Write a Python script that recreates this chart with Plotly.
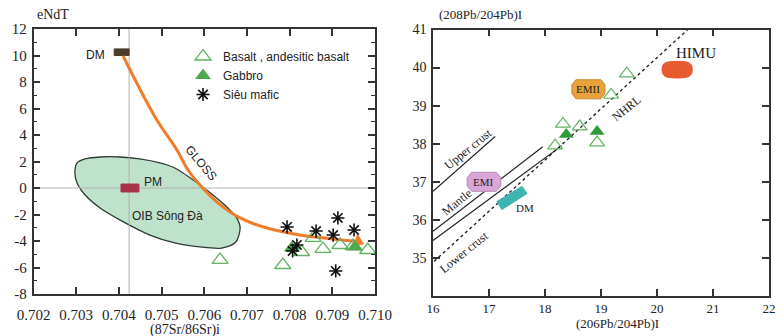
import plotly.graph_objects as go

# ---------------- Left panel data: eNdT vs (87Sr/86Sr)i ----------------
sr_ticks = [0.702, 0.703, 0.704, 0.705, 0.706, 0.707, 0.708, 0.709, 0.710]
nd_ticks = [-8, -6, -4, -2, 0, 2, 4, 6, 8, 10, 12]

basalt_sr = [0.70637, 0.70784, 0.70828, 0.70878, 0.70855, 0.70918, 0.70949, 0.70983]
basalt_nd = [-5.43, -5.81, -4.83, -4.60, -3.77, -4.30, -4.38, -4.68]

gabbro_sr = [0.70805, 0.70953]
gabbro_nd = [-4.53, -4.45]

ultra_sr = [0.70794, 0.70913, 0.70862, 0.70902, 0.70951, 0.70817, 0.70807, 0.70908]
ultra_nd = [-2.94, -2.26, -3.25, -3.55, -3.17, -4.30, -4.75, -6.26]

oib_sr = [0.70302, 0.70321, 0.70356, 0.70403, 0.70449, 0.70496, 0.70531, 0.70590,
          0.70648, 0.70676, 0.70684, 0.70674, 0.70641, 0.70590, 0.70531, 0.70473,
          0.70403, 0.70356, 0.70321, 0.70302, 0.70297, 0.70302]
oib_nd = [1.89, 2.19, 2.34, 2.34, 2.19, 1.89, 1.51, 0.23,
          -1.28, -2.26, -3.02, -4.08, -4.53, -4.45, -4.15, -3.55,
          -2.42, -1.51, -0.53, 0.38, 1.13, 1.89]

gloss_sr = [0.70410, 0.70442, 0.70489, 0.70536, 0.70562, 0.70590, 0.70630,
            0.70684, 0.70747, 0.70824, 0.70901, 0.70960]
gloss_nd = [9.96, 7.92, 5.13, 2.87, 1.36, 0.23, -1.06, -2.26, -3.02, -3.55, -3.85, -4.05]

dm_sr = [0.70389, 0.70424, 0.70424, 0.70389, 0.70389]
dm_nd = [10.0, 10.0, 10.5, 10.5, 10.0]
pm_sr = [0.70405, 0.70447, 0.70447, 0.70405, 0.70405]
pm_nd = [-0.3, -0.3, 0.3, 0.3, -0.3]
bse_sr = 0.70424
bse_nd = 0.0

# ---------------- Right panel data: 208Pb/204Pb vs 206Pb/204Pb ----------------
pb6_ticks = [16, 17, 18, 19, 20, 21, 22]
pb8_ticks = [35, 36, 37, 38, 39, 40, 41]

pb_basalt_6 = [19.46, 19.18, 18.32, 18.62, 18.18, 18.93]
pb_basalt_8 = [39.84, 39.28, 38.52, 38.45, 37.95, 38.03]
pb_gabbro_6 = [18.38, 18.93]
pb_gabbro_8 = [38.24, 38.32]

upper_crust_6 = [16.0, 17.11]
upper_crust_8 = [36.75, 38.19]
mantle_a_6 = [16.0, 17.96]
mantle_a_8 = [35.70, 37.92]
mantle_b_6 = [16.0, 18.30]
mantle_b_8 = [35.46, 37.95]
nhrl_6 = [16.02, 20.55]
nhrl_8 = [34.91, 41.0]

emii_6 = [18.48, 18.48, 18.55, 19.00, 19.07, 19.07, 19.00, 18.55, 18.48]
emii_8 = [39.32, 39.55, 39.68, 39.68, 39.55, 39.32, 39.18, 39.18, 39.32]
emi_6 = [16.61, 16.61, 16.69, 17.13, 17.21, 17.21, 17.13, 16.69, 16.61]
emi_8 = [36.89, 37.11, 37.25, 37.25, 37.11, 36.89, 36.75, 36.75, 36.89]
himu_6 = [20.10, 20.10, 20.16, 20.56, 20.62, 20.62, 20.56, 20.16, 20.10]
himu_8 = [39.85, 40.04, 40.13, 40.13, 40.04, 39.85, 39.76, 39.76, 39.85]
dmpb_6 = [17.14, 17.59, 17.68, 17.23, 17.14]
dmpb_8 = [36.48, 36.88, 36.69, 36.27, 36.48]

# ---------------- styles ----------------
SERIF = "Liberation Serif, Times New Roman, serif"
SANS = "Liberation Sans, Arial, sans-serif"
OPEN_GREEN = "#62b262"
FILL_GREEN = "#4faa4f"
ORANGE = "#f07c2a"
AXIS = "#333333"

fig = go.Figure()

# Left panel
fig.add_trace(go.Scatter(x=oib_sr, y=oib_nd, mode="lines", fill="toself",
                         fillcolor="#bfe2cc", line=dict(color="#2f3a33", width=1.3, shape="spline", smoothing=0.8),
                         showlegend=False, hoverinfo="skip", xaxis="x", yaxis="y"))
fig.add_trace(go.Scatter(x=[bse_sr, bse_sr], y=[nd_ticks[0], nd_ticks[-1]], mode="lines",
                         line=dict(color="#b0b0b0", width=1), showlegend=False, xaxis="x", yaxis="y"))
fig.add_trace(go.Scatter(x=[sr_ticks[0], sr_ticks[-1]], y=[bse_nd, bse_nd], mode="lines",
                         line=dict(color="#b0b0b0", width=1), showlegend=False, xaxis="x", yaxis="y"))
fig.add_trace(go.Scatter(x=dm_sr, y=dm_nd, mode="lines", fill="toself", fillcolor="#4b3b2c",
                         line=dict(color="#4b3b2c", width=1), showlegend=False, xaxis="x", yaxis="y"))
fig.add_trace(go.Scatter(x=pm_sr, y=pm_nd, mode="lines", fill="toself", fillcolor="#a8324a",
                         line=dict(color="#a8324a", width=1), showlegend=False, xaxis="x", yaxis="y"))
fig.add_trace(go.Scatter(x=gloss_sr, y=gloss_nd, mode="lines",
                         line=dict(color=ORANGE, width=3, shape="spline"), showlegend=False, xaxis="x", yaxis="y"))
fig.add_trace(go.Scatter(x=[gloss_sr[-1]], y=[gloss_nd[-1]], mode="markers",
                         marker=dict(symbol="triangle-right", size=13, color=ORANGE, angle=20),
                         showlegend=False, xaxis="x", yaxis="y"))

fig.add_trace(go.Scatter(x=basalt_sr, y=basalt_nd, mode="markers", name="Basalt , andesitic basalt",
                         marker=dict(symbol="triangle-up-open", size=14, color=OPEN_GREEN, line=dict(width=1.3)),
                         xaxis="x", yaxis="y"))
fig.add_trace(go.Scatter(x=gabbro_sr, y=gabbro_nd, mode="markers", name="Gabbro",
                         marker=dict(symbol="triangle-up", size=14, color=FILL_GREEN),
                         xaxis="x", yaxis="y"))
fig.add_trace(go.Scatter(x=ultra_sr, y=ultra_nd, mode="markers", name="Siêu mafic",
                         marker=dict(symbol="asterisk-open", size=11, color="#111111",
                                     line=dict(color="#111111", width=1.6)),
                         xaxis="x", yaxis="y"))

# Right panel
for xs, ys in [(upper_crust_6, upper_crust_8), (mantle_a_6, mantle_a_8), (mantle_b_6, mantle_b_8)]:
    fig.add_trace(go.Scatter(x=xs, y=ys, mode="lines", line=dict(color="#222222", width=1.2),
                             showlegend=False, xaxis="x2", yaxis="y2"))
fig.add_trace(go.Scatter(x=nhrl_6, y=nhrl_8, mode="lines", line=dict(color="#222222", width=1.4, dash="dot"),
                         showlegend=False, xaxis="x2", yaxis="y2"))
fig.add_trace(go.Scatter(x=emii_6, y=emii_8, mode="lines", fill="toself", fillcolor="#e9a23b",
                         line=dict(color="#c98a2a", width=1), showlegend=False, xaxis="x2", yaxis="y2"))
fig.add_trace(go.Scatter(x=emi_6, y=emi_8, mode="lines", fill="toself", fillcolor="#d9a6d8",
                         line=dict(color="#b88ab8", width=1), showlegend=False, xaxis="x2", yaxis="y2"))
fig.add_trace(go.Scatter(x=himu_6, y=himu_8, mode="lines", fill="toself", fillcolor="#e85a30",
                         line=dict(color="#e85a30", width=1, shape="spline"), showlegend=False, xaxis="x2", yaxis="y2"))
fig.add_trace(go.Scatter(x=dmpb_6, y=dmpb_8, mode="lines", fill="toself", fillcolor="#3db6b2",
                         line=dict(color="#3db6b2", width=1), showlegend=False, xaxis="x2", yaxis="y2"))
fig.add_trace(go.Scatter(x=pb_basalt_6, y=pb_basalt_8, mode="markers",
                         marker=dict(symbol="triangle-up-open", size=13, color=OPEN_GREEN, line=dict(width=1.2)),
                         showlegend=False, xaxis="x2", yaxis="y2"))
fig.add_trace(go.Scatter(x=pb_gabbro_6, y=pb_gabbro_8, mode="markers",
                         marker=dict(symbol="triangle-up", size=13, color="#2e9a3a"),
                         showlegend=False, xaxis="x2", yaxis="y2"))

def ann(x, y, text, ref, size, font=SERIF, angle=0, xanchor="center"):
    return dict(x=x, y=y, xref=ref[0], yref=ref[1], text=text, showarrow=False,
                font=dict(family=font, size=size, color="#222222"), textangle=angle, xanchor=xanchor)

L = ("x", "y")
R = ("x2", "y2")
annotations = [
    ann(0.70346, 10.05, "DM", L, 12, SANS),
    ann(0.70480, 0.45, "PM", L, 12, SANS),
    ann(0.70515, -2.1, "OIB Sông Đà", L, 12, SANS),
    ann(0.70592, 1.85, "GLOSS", L, 12, SANS, angle=50),
    ann(18.775, 39.43, "EMII", R, 11),
    ann(16.91, 37.0, "EMI", R, 11),
    ann(20.70, 40.38, "HIMU", R, 15),
    ann(17.64, 36.30, "DM", R, 11),
    ann(16.63, 37.85, "Upper crust", R, 12, angle=-39),
    ann(16.43, 36.46, "Mantle", R, 12, angle=-39),
    ann(16.56, 35.15, "Lower crust", R, 12, angle=-39),
    ann(19.46, 38.94, "NHRL", R, 12, angle=-39),
    dict(x=35 / 784, y=(336 - 15) / 336, xref="paper", yref="paper", text="eNdT", showarrow=False,
         xanchor="left", yanchor="middle", font=dict(family=SERIF, size=14, color="#222222")),
    dict(x=185 / 784, y=(336 - 330) / 336, xref="paper", yref="paper", text="(87Sr/86Sr)i", showarrow=False,
         xanchor="center", yanchor="middle", font=dict(family=SERIF, size=14, color="#222222")),
    dict(x=437 / 784, y=(336 - 15) / 336, xref="paper", yref="paper", text="(208Pb/204Pb)I", showarrow=False,
         xanchor="left", yanchor="middle", font=dict(family=SERIF, size=13, color="#222222")),
    dict(x=617 / 784, y=(336 - 323) / 336, xref="paper", yref="paper", text="(206Pb/204Pb)I", showarrow=False,
         xanchor="center", yanchor="middle", font=dict(family=SERIF, size=13, color="#222222")),
]

def axis_style(**kw):
    d = dict(showline=True, linecolor=AXIS, linewidth=1.6, mirror="allticks", ticks="inside",
             ticklen=7, tickwidth=1.6, tickcolor=AXIS, showgrid=False, zeroline=False, automargin=False,
             tickfont=dict(family=SERIF, size=15, color="#222222"))
    d.update(kw)
    return d

fig.update_layout(
    width=784, height=336, margin=dict(l=0, r=0, t=0, b=0),
    paper_bgcolor="white", plot_bgcolor="white",
    xaxis=axis_style(domain=[33.5 / 784, 375 / 784], range=[sr_ticks[0], sr_ticks[-1]],
                     tickvals=sr_ticks, ticktext=[f"{v:.3f}" for v in sr_ticks], anchor="y",
                     ticklabelstandoff=6),
    yaxis=axis_style(domain=[(336 - 294) / 336, (336 - 29) / 336], range=[nd_ticks[0], nd_ticks[-1]],
                     tickvals=nd_ticks, ticktext=[str(v) for v in nd_ticks], anchor="x",
                     ticklabelstandoff=2,
                     minor=dict(dtick=1, ticks="inside", ticklen=4, tickcolor=AXIS, tickwidth=1.4)),
    xaxis2=axis_style(domain=[433 / 784, 769 / 784], range=[pb6_ticks[0], pb6_ticks[-1]],
                      tickvals=pb6_ticks, anchor="y2", ticklabelstandoff=0,
                      tickfont=dict(family=SERIF, size=13, color="#222222")),
    yaxis2=axis_style(domain=[(336 - 296) / 336, (336 - 29.5) / 336], range=[34, 41],
                      tickvals=pb8_ticks, anchor="x2", ticklabelstandoff=2,
                      tickfont=dict(family=SERIF, size=14, color="#222222")),
    legend=dict(x=183 / 784, y=(336 - 42) / 336, xanchor="left", yanchor="top",
                bgcolor="rgba(0,0,0,0)", font=dict(family=SANS, size=12, color="#222222"),
                tracegroupgap=0, itemwidth=30),
    annotations=annotations,
)

fig.write_html("out.html")
